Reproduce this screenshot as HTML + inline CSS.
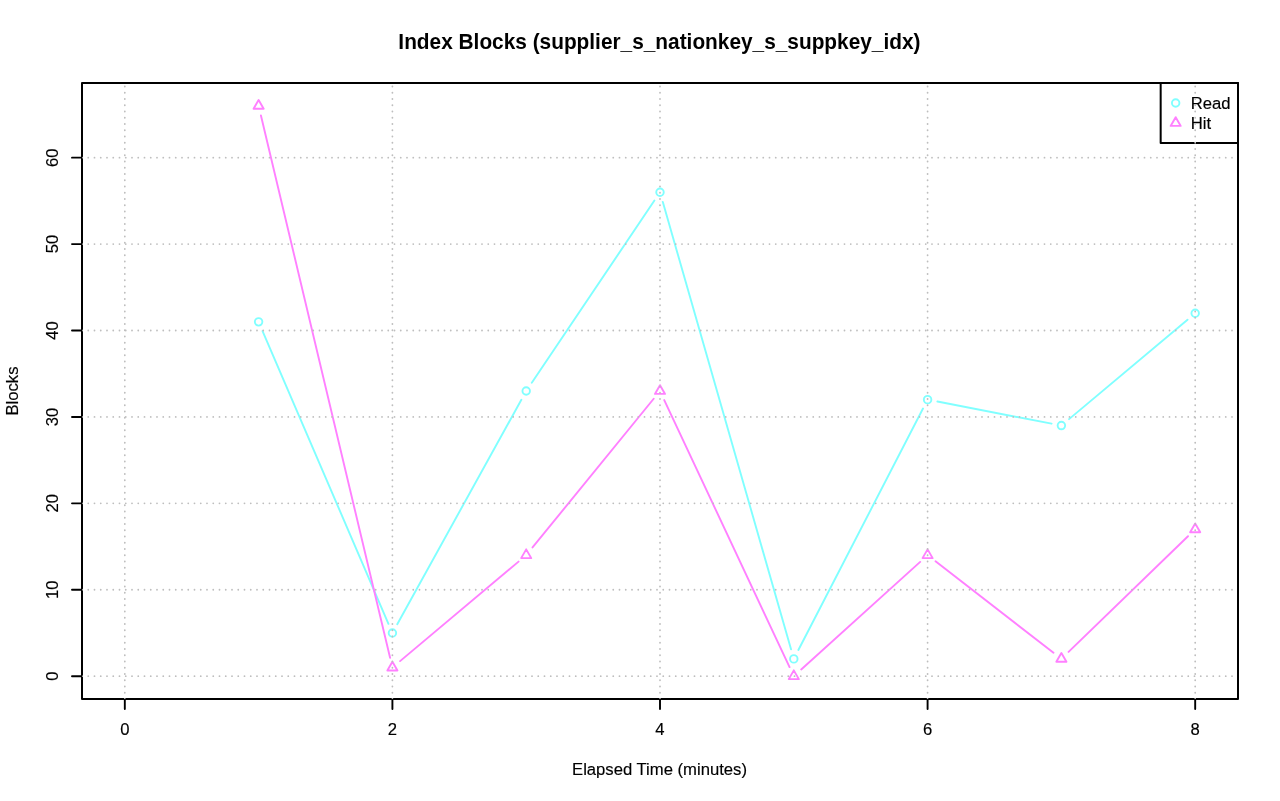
<!DOCTYPE html>
<html lang="en"><head><meta charset="utf-8">
<title>Index Blocks (supplier_s_nationkey_s_suppkey_idx)</title>
<style>
html,body{margin:0;padding:0;background:#fff;}
body{width:1280px;height:801px;overflow:hidden;}
svg{display:block;}
text{font-family:"Liberation Sans",Arial,Helvetica,sans-serif;fill:#000;}
.lab{font-size:16.67px;stroke:#000;stroke-width:0.15;stroke-linejoin:round;}
.ttl{font-size:20.83px;font-weight:bold;}
.ax{stroke:#000;stroke-width:2;fill:none;stroke-linecap:round;stroke-linejoin:round;}
.gr{stroke:#BEBEBE;stroke-width:1.8;fill:none;stroke-linecap:round;stroke-dasharray:0 6.25;}
.c{stroke:#80FFFF;stroke-width:1.9;fill:none;stroke-linecap:round;stroke-linejoin:round;}
.m{stroke:#FF80FF;stroke-width:1.9;fill:none;stroke-linecap:round;stroke-linejoin:round;}
</style></head><body>
<svg width="1280" height="801" viewBox="0 0 1280 801" role="img" aria-label="Index Blocks line chart">
<rect x="0" y="0" width="1280" height="801" fill="#fff"/>
<defs><clipPath id="plotclip"><rect x="82" y="83" width="1156" height="616"/></clipPath></defs>
<g class="c">
<path d="M262.56 331.05L388.46 623.79M397.25 624.22L521.36 399.75M531.79 382.7L654.42 200.53M662.76 201.85L791.04 649.29M798.38 650.01L923.01 408.53M937.41 401.54L1051.57 423.67M1069.05 419.14L1187.53 319.65"/>
<circle cx="258.61" cy="321.86" r="3.75"/>
<circle cx="392.41" cy="632.98" r="3.75"/>
<circle cx="526.2" cy="391" r="3.75"/>
<circle cx="660" cy="192.23" r="3.75"/>
<circle cx="793.8" cy="658.9" r="3.75"/>
<circle cx="927.59" cy="399.64" r="3.75"/>
<circle cx="1061.39" cy="425.57" r="3.75"/>
<circle cx="1195.19" cy="313.22" r="3.75"/>
</g>
<g class="m">
<path d="M260.93 115.54L390.09 657.82M400.07 661.11L518.55 561.63M532.52 547.45L653.68 398.75M664.25 400.05L789.55 667.13M801.21 669.48L920.18 561.9M935.5 561.32L1053.49 652.78M1068.57 651.94L1188 536.23"/>
<path d="M258.61 99.98L263.66 108.73L253.56 108.73Z"/>
<path d="M392.41 661.71L397.46 670.46L387.36 670.46Z"/>
<path d="M526.2 549.37L531.25 558.11L521.15 558.11Z"/>
<path d="M660 385.17L665.05 393.92L654.95 393.92Z"/>
<path d="M793.8 670.35L798.85 679.1L788.75 679.1Z"/>
<path d="M927.59 549.37L932.64 558.11L922.54 558.11Z"/>
<path d="M1061.39 653.07L1066.44 661.82L1056.34 661.82Z"/>
<path d="M1195.19 523.44L1200.24 532.19L1190.13 532.19Z"/>
</g>
<g class="ax">
<path d="M124.81 699H1195.19"/>
<path stroke-width="1.9" d="M124.81 699v10M392.41 699v10M660 699v10M927.59 699v10M1195.19 699v10"/>
<path d="M82 676.19V157.67"/>
<path stroke-width="1.9" d="M82 676.19h-10M82 589.77h-10M82 503.35h-10M82 416.93h-10M82 330.51h-10M82 244.09h-10M82 157.67h-10"/>
<rect x="82" y="83" width="1156" height="616"/>
</g>
<g class="lab" text-anchor="middle">
<text x="124.81" y="735.2">0</text>
<text x="392.41" y="735.2">2</text>
<text x="660" y="735.2">4</text>
<text x="927.59" y="735.2">6</text>
<text x="1195.19" y="735.2">8</text>
<text transform="translate(58 676.19) rotate(-90)">0</text>
<text transform="translate(58 589.77) rotate(-90)">10</text>
<text transform="translate(58 503.35) rotate(-90)">20</text>
<text transform="translate(58 416.93) rotate(-90)">30</text>
<text transform="translate(58 330.51) rotate(-90)">40</text>
<text transform="translate(58 244.09) rotate(-90)">50</text>
<text transform="translate(58 157.67) rotate(-90)">60</text>
<text x="659.5" y="774.8">Elapsed Time (minutes)</text>
<text transform="translate(18 391) rotate(-90)">Blocks</text>
</g>
<text class="ttl" text-anchor="middle" transform="translate(659.4 49) scale(1 1.04)">Index Blocks (supplier_s_nationkey_s_suppkey_idx)</text>
<rect class="ax" x="1160.67" y="83" width="77.33" height="60" fill="#fff" style="fill:#fff"/>
<g class="c"><circle cx="1175.67" cy="103" r="3.75"/></g>
<g class="m"><path d="M1175.67 117.17L1180.72 125.92L1170.62 125.92Z"/></g>
<g class="lab"><text x="1190.67" y="109">Read</text><text x="1190.67" y="129">Hit</text></g>
<g class="gr" clip-path="url(#plotclip)">
<path d="M124.81 699V83M392.41 699V83M660 699V83M927.59 699V83M1195.19 699V83"/>
<path d="M82 676.19H1238M82 589.77H1238M82 503.35H1238M82 416.93H1238M82 330.51H1238M82 244.09H1238M82 157.67H1238"/>
</g>
</svg>
</body></html>
